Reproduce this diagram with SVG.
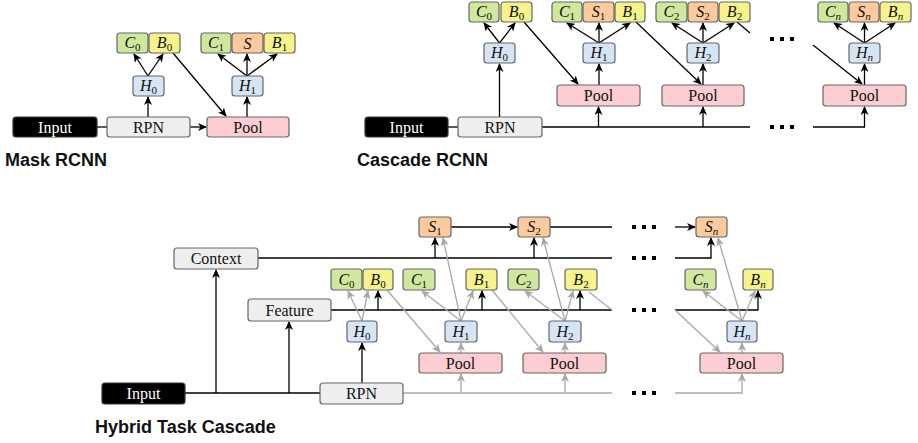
<svg xmlns="http://www.w3.org/2000/svg" width="918" height="443" viewBox="0 0 918 443">
  <defs>
    <marker id="ab" markerUnits="userSpaceOnUse" markerWidth="9" markerHeight="8" refX="8" refY="4" orient="auto">
      <path d="M0,0 L9,4 L0,8 L2.5,4 z" fill="#000"/>
    </marker>
    <marker id="ag" markerUnits="userSpaceOnUse" markerWidth="9" markerHeight="8" refX="8" refY="4" orient="auto">
      <path d="M0,0 L9,4 L0,8 L2.5,4 z" fill="#a8a8a8"/>
    </marker>
    <style>
      .b { stroke: #666; stroke-width: 1.2; }
      .in { fill: #000; stroke: #333; }
      .gr { fill: #eeeeee; }
      .pl { fill: #fccdd2; }
      .hd { fill: #d6e5f6; }
      .cl { fill: #cfe89e; }
      .bx { fill: #f6f38d; }
      .sg { fill: #fcca9c; }
      .t { font-family: "Liberation Serif", "DejaVu Serif", serif; font-size: 16px; text-anchor: middle; fill: #111; }
      .tw { fill: #fff; }
      .m { font-family: "Liberation Serif", "DejaVu Serif", serif; font-size: 16px; text-anchor: middle; fill: #111; font-style: italic; }
      .sub { font-size: 11px; font-style: normal; }
      .si { font-size: 11px; font-style: italic; }
      .ttl { font-family: "Liberation Sans", Arial, sans-serif; font-size: 18px; font-weight: bold; fill: #111; }
      .k { stroke: #000; stroke-width: 1.3; fill: none; }
      .g { stroke: #a8a8a8; stroke-width: 1.3; fill: none; }
      .ka { marker-end: url(#ab); }
      .ga { marker-end: url(#ag); }
      .dots { stroke: #000; stroke-width: 4; stroke-dasharray: 4 6; fill: none; }
    </style>
  </defs>

  <!-- ===== Mask RCNN ===== -->
  <g id="connectors-mask">
    <path class="k" d="M97,127 H107"/>
    <path class="k ka" d="M190,127 H206"/>
    <path class="k ka" d="M148,117 V97"/>
    <path class="k ka" d="M148,76 L134,54"/>
    <path class="k ka" d="M148,76 L163,54"/>
    <path class="k ka" d="M173,53 L226,116"/>
    <path class="k ka" d="M247,117 V97"/>
    <path class="k ka" d="M247,76 L218,54"/>
    <path class="k ka" d="M247,76 V54"/>
    <path class="k ka" d="M247,76 L277,54"/>
  </g>
  <g id="mask-input"><rect class="b in" x="13" y="117" width="84" height="20" rx="3"/><text class="t tw" x="55" y="132.5">Input</text></g>
  <g id="mask-rpn"><rect class="b gr" x="107" y="117" width="83" height="20" rx="3"/><text class="t" x="148.5" y="132.5">RPN</text></g>
  <g id="mask-pool"><rect class="b pl" x="207" y="117" width="82" height="20" rx="3"/><text class="t" x="248" y="132.5">Pool</text></g>
  <g id="mask-h0"><rect class="b hd" x="133" y="76" width="31" height="20" rx="3"/><text class="m" x="148.5" y="91">H<tspan class="sub" dy="3">0</tspan></text></g>
  <g id="mask-c0"><rect class="b cl" x="117" y="33" width="31" height="20" rx="3"/><text class="m" x="132.5" y="48">C<tspan class="sub" dy="3">0</tspan></text></g>
  <g id="mask-b0"><rect class="b bx" x="149" y="33" width="31" height="20" rx="3"/><text class="m" x="164.5" y="48">B<tspan class="sub" dy="3">0</tspan></text></g>
  <g id="mask-h1"><rect class="b hd" x="232" y="76" width="31" height="20" rx="3"/><text class="m" x="247.5" y="91">H<tspan class="sub" dy="3">1</tspan></text></g>
  <g id="mask-c1"><rect class="b cl" x="201" y="33" width="30" height="20" rx="3"/><text class="m" x="216" y="48">C<tspan class="sub" dy="3">1</tspan></text></g>
  <g id="mask-s"><rect class="b sg" x="232" y="33" width="31" height="20" rx="3"/><text class="m" x="247.5" y="48.5">S</text></g>
  <g id="mask-b1"><rect class="b bx" x="264" y="33" width="31" height="20" rx="3"/><text class="m" x="279.5" y="48">B<tspan class="sub" dy="3">1</tspan></text></g>
  <text class="ttl" x="5" y="166">Mask RCNN</text>

  <!-- ===== Cascade RCNN ===== -->
  <g id="connectors-cascade">
    <path class="k" d="M448,127 H458"/>
    <path class="k" d="M542,127 H750"/>
    <path class="dots" d="M770,127 H796"/>
    <path class="k ka" d="M813,127 H864.5 V107"/>
    <path class="k ka" d="M598.5,127 V107"/>
    <path class="k ka" d="M703,127 V107"/>
    <path class="k ka" d="M499.5,117 V64"/>
    <path class="k ka" d="M499.5,43 L484,23"/>
    <path class="k ka" d="M499.5,43 L515,23"/>
    <path class="k ka" d="M524,22 L578,84"/>
    <path class="k ka" d="M599,85 V64"/>
    <path class="k ka" d="M599,43 L567,23"/>
    <path class="k ka" d="M599,43 V23"/>
    <path class="k ka" d="M599,43 L630,23"/>
    <path class="k ka" d="M636,22 L701,84"/>
    <path class="k ka" d="M703,85 V64"/>
    <path class="k ka" d="M703,43 L672,23"/>
    <path class="k ka" d="M703,43 V23"/>
    <path class="k ka" d="M703,43 L734,23"/>
    <path class="k" d="M737,22 L750,33"/>
    <path class="dots" d="M770,39 H796"/>
    <path class="k ka" d="M813,45 L862,84"/>
    <path class="k ka" d="M864.5,85 V64"/>
    <path class="k ka" d="M864.5,43 L834,23"/>
    <path class="k ka" d="M864.5,43 V23"/>
    <path class="k ka" d="M864.5,43 L895,23"/>
  </g>
  <g id="cas-input"><rect class="b in" x="365" y="117" width="83" height="20" rx="3"/><text class="t tw" x="406.5" y="132.5">Input</text></g>
  <g id="cas-rpn"><rect class="b gr" x="458" y="117" width="84" height="20" rx="3"/><text class="t" x="500" y="132.5">RPN</text></g>
  <g id="cas-h0"><rect class="b hd" x="484" y="43" width="31" height="20" rx="3"/><text class="m" x="499.5" y="58">H<tspan class="sub" dy="3">0</tspan></text></g>
  <g id="cas-c0"><rect class="b cl" x="469" y="2" width="30" height="20" rx="3"/><text class="m" x="484" y="17">C<tspan class="sub" dy="3">0</tspan></text></g>
  <g id="cas-b0"><rect class="b bx" x="501" y="2" width="31" height="20" rx="3"/><text class="m" x="516.5" y="17">B<tspan class="sub" dy="3">0</tspan></text></g>
  <g id="cas-pool1"><rect class="b pl" x="557" y="85" width="83" height="21" rx="3"/><text class="t" x="598.5" y="101">Pool</text></g>
  <g id="cas-h1"><rect class="b hd" x="583" y="43" width="32" height="20" rx="3"/><text class="m" x="599" y="58">H<tspan class="sub" dy="3">1</tspan></text></g>
  <g id="cas-c1"><rect class="b cl" x="552" y="2" width="30" height="20" rx="3"/><text class="m" x="567" y="17">C<tspan class="sub" dy="3">1</tspan></text></g>
  <g id="cas-s1"><rect class="b sg" x="583" y="2" width="31" height="20" rx="3"/><text class="m" x="598.5" y="17">S<tspan class="sub" dy="3">1</tspan></text></g>
  <g id="cas-b1"><rect class="b bx" x="615" y="2" width="30" height="20" rx="3"/><text class="m" x="630" y="17">B<tspan class="sub" dy="3">1</tspan></text></g>
  <g id="cas-pool2"><rect class="b pl" x="662" y="85" width="82" height="21" rx="3"/><text class="t" x="703" y="101">Pool</text></g>
  <g id="cas-h2"><rect class="b hd" x="687" y="43" width="32" height="20" rx="3"/><text class="m" x="703" y="58">H<tspan class="sub" dy="3">2</tspan></text></g>
  <g id="cas-c2"><rect class="b cl" x="656" y="2" width="31" height="20" rx="3"/><text class="m" x="671.5" y="17">C<tspan class="sub" dy="3">2</tspan></text></g>
  <g id="cas-s2"><rect class="b sg" x="688" y="2" width="30" height="20" rx="3"/><text class="m" x="703" y="17">S<tspan class="sub" dy="3">2</tspan></text></g>
  <g id="cas-b2"><rect class="b bx" x="719" y="2" width="31" height="20" rx="3"/><text class="m" x="734.5" y="17">B<tspan class="sub" dy="3">2</tspan></text></g>
  <g id="cas-pooln"><rect class="b pl" x="823" y="85" width="83" height="21" rx="3"/><text class="t" x="864.5" y="101">Pool</text></g>
  <g id="cas-hn"><rect class="b hd" x="849" y="43" width="31" height="20" rx="3"/><text class="m" x="864.5" y="58">H<tspan class="si" dy="3">n</tspan></text></g>
  <g id="cas-cn"><rect class="b cl" x="818" y="2" width="30" height="20" rx="3"/><text class="m" x="833" y="17">C<tspan class="si" dy="3">n</tspan></text></g>
  <g id="cas-sn"><rect class="b sg" x="849" y="2" width="30" height="20" rx="3"/><text class="m" x="864" y="17">S<tspan class="si" dy="3">n</tspan></text></g>
  <g id="cas-bn"><rect class="b bx" x="880" y="2" width="31" height="20" rx="3"/><text class="m" x="895.5" y="17">B<tspan class="si" dy="3">n</tspan></text></g>
  <text class="ttl" x="357" y="166">Cascade RCNN</text>

  <!-- ===== Hybrid Task Cascade ===== -->
  <g id="connectors-htc">
    <!-- trunk from the input -->
    <path class="k" d="M185,393 H320"/>
    <path class="k ka" d="M216,393 V270"/>
    <path class="k ka" d="M289,393 V322"/>
    <path class="k ka" d="M362,383 V343"/>
    <!-- context branch -->
    <path class="k" d="M258,258 H612"/>
    <path class="k ka" d="M435,258 V238"/>
    <path class="k ka" d="M534,258 V238"/>
    <path class="dots" d="M632,258 H658"/>
    <path class="k ka" d="M675,258 H711 V238"/>
    <!-- mask flow -->
    <path class="k ka" d="M451,227 H517"/>
    <path class="k" d="M550,227 H612"/>
    <path class="dots" d="M632,227 H658"/>
    <path class="k ka" d="M675,227 H695"/>
    <!-- feature branch -->
    <path class="k" d="M331,310 H612"/>
    <path class="k ka" d="M378,310 V291"/>
    <path class="k ka" d="M482,310 V291"/>
    <path class="k ka" d="M580,310 V291"/>
    <path class="dots" d="M632,310 H658"/>
    <path class="k ka" d="M675,310 H758 V291"/>
    <!-- proposals to pooling -->
    <path class="g" d="M403,393 H612"/>
    <path class="g ga" d="M461,393 V374"/>
    <path class="g ga" d="M565,393 V374"/>
    <path class="dots" d="M632,393 H658"/>
    <path class="g ga" d="M675,393 H742 V374"/>
    <path class="g ga" d="M461,353 V343"/>
    <path class="g ga" d="M565,353 V343"/>
    <path class="g ga" d="M742,353 V343"/>
    <!-- heads to outputs -->
    <path class="g ga" d="M362,321 L348,291"/>
    <path class="g ga" d="M362,321 L368,291"/>
    <path class="g ga" d="M461,321 L422,291"/>
    <path class="g ga" d="M461,321 L473,291"/>
    <path class="g ga" d="M461,321 L443,238"/>
    <path class="g ga" d="M565,321 L525,291"/>
    <path class="g ga" d="M565,321 L573,291"/>
    <path class="g ga" d="M565,321 L543,238"/>
    <path class="g ga" d="M742,321 L703,291"/>
    <path class="g ga" d="M742,321 L755,291"/>
    <path class="g ga" d="M742,321 L718,238"/>
    <!-- refined boxes to next pooling -->
    <path class="g ga" d="M387,290 L440,352"/>
    <path class="g ga" d="M492,290 L543,352"/>
    <path class="g" d="M589,292 L612,310"/>
    <path class="g ga" d="M675,310 L720,352"/>
  </g>
  <g id="htc-input"><rect class="b in" x="102" y="383" width="83" height="21" rx="3"/><text class="t tw" x="143.5" y="399">Input</text></g>
  <g id="htc-rpn"><rect class="b gr" x="320" y="383" width="83" height="21" rx="3"/><text class="t" x="361.5" y="399">RPN</text></g>
  <g id="htc-context"><rect class="b gr" x="174" y="248" width="84" height="21" rx="3"/><text class="t" x="216" y="264">Context</text></g>
  <g id="htc-feature"><rect class="b gr" x="248" y="299" width="83" height="22" rx="3"/><text class="t" x="289.5" y="315.5">Feature</text></g>
  <g id="htc-h0"><rect class="b hd" x="347" y="321" width="30" height="21" rx="3"/><text class="m" x="362" y="336.5">H<tspan class="sub" dy="3">0</tspan></text></g>
  <g id="htc-c0"><rect class="b cl" x="331" y="269" width="31" height="21" rx="3"/><text class="m" x="346.5" y="284.5">C<tspan class="sub" dy="3">0</tspan></text></g>
  <g id="htc-b0"><rect class="b bx" x="363" y="269" width="30" height="21" rx="3"/><text class="m" x="378" y="284.5">B<tspan class="sub" dy="3">0</tspan></text></g>
  <g id="htc-s1"><rect class="b sg" x="419" y="217" width="32" height="20" rx="3"/><text class="m" x="435" y="232">S<tspan class="sub" dy="3">1</tspan></text></g>
  <g id="htc-c1"><rect class="b cl" x="403" y="269" width="32" height="21" rx="3"/><text class="m" x="419" y="284.5">C<tspan class="sub" dy="3">1</tspan></text></g>
  <g id="htc-b1"><rect class="b bx" x="466" y="269" width="31" height="21" rx="3"/><text class="m" x="481.5" y="284.5">B<tspan class="sub" dy="3">1</tspan></text></g>
  <g id="htc-h1"><rect class="b hd" x="445" y="321" width="32" height="21" rx="3"/><text class="m" x="461" y="336.5">H<tspan class="sub" dy="3">1</tspan></text></g>
  <g id="htc-pool1"><rect class="b pl" x="419" y="353" width="83" height="20" rx="3"/><text class="t" x="460.5" y="368.5">Pool</text></g>
  <g id="htc-s2"><rect class="b sg" x="518" y="217" width="32" height="20" rx="3"/><text class="m" x="534" y="232">S<tspan class="sub" dy="3">2</tspan></text></g>
  <g id="htc-c2"><rect class="b cl" x="508" y="269" width="31" height="21" rx="3"/><text class="m" x="523.5" y="284.5">C<tspan class="sub" dy="3">2</tspan></text></g>
  <g id="htc-b2"><rect class="b bx" x="565" y="269" width="32" height="21" rx="3"/><text class="m" x="581" y="284.5">B<tspan class="sub" dy="3">2</tspan></text></g>
  <g id="htc-h2"><rect class="b hd" x="549" y="321" width="32" height="21" rx="3"/><text class="m" x="565" y="336.5">H<tspan class="sub" dy="3">2</tspan></text></g>
  <g id="htc-pool2"><rect class="b pl" x="523" y="353" width="83" height="20" rx="3"/><text class="t" x="564.5" y="368.5">Pool</text></g>
  <g id="htc-sn"><rect class="b sg" x="696" y="217" width="31" height="20" rx="3"/><text class="m" x="711.5" y="232">S<tspan class="si" dy="3">n</tspan></text></g>
  <g id="htc-cn"><rect class="b cl" x="685" y="269" width="31" height="21" rx="3"/><text class="m" x="700.5" y="284.5">C<tspan class="si" dy="3">n</tspan></text></g>
  <g id="htc-bn"><rect class="b bx" x="743" y="269" width="30" height="21" rx="3"/><text class="m" x="758" y="284.5">B<tspan class="si" dy="3">n</tspan></text></g>
  <g id="htc-hn"><rect class="b hd" x="727" y="321" width="30" height="21" rx="3"/><text class="m" x="742" y="336.5">H<tspan class="si" dy="3">n</tspan></text></g>
  <g id="htc-pooln"><rect class="b pl" x="700" y="353" width="83" height="20" rx="3"/><text class="t" x="741.5" y="368.5">Pool</text></g>
  <text class="ttl" x="95" y="433">Hybrid Task Cascade</text>
</svg>
